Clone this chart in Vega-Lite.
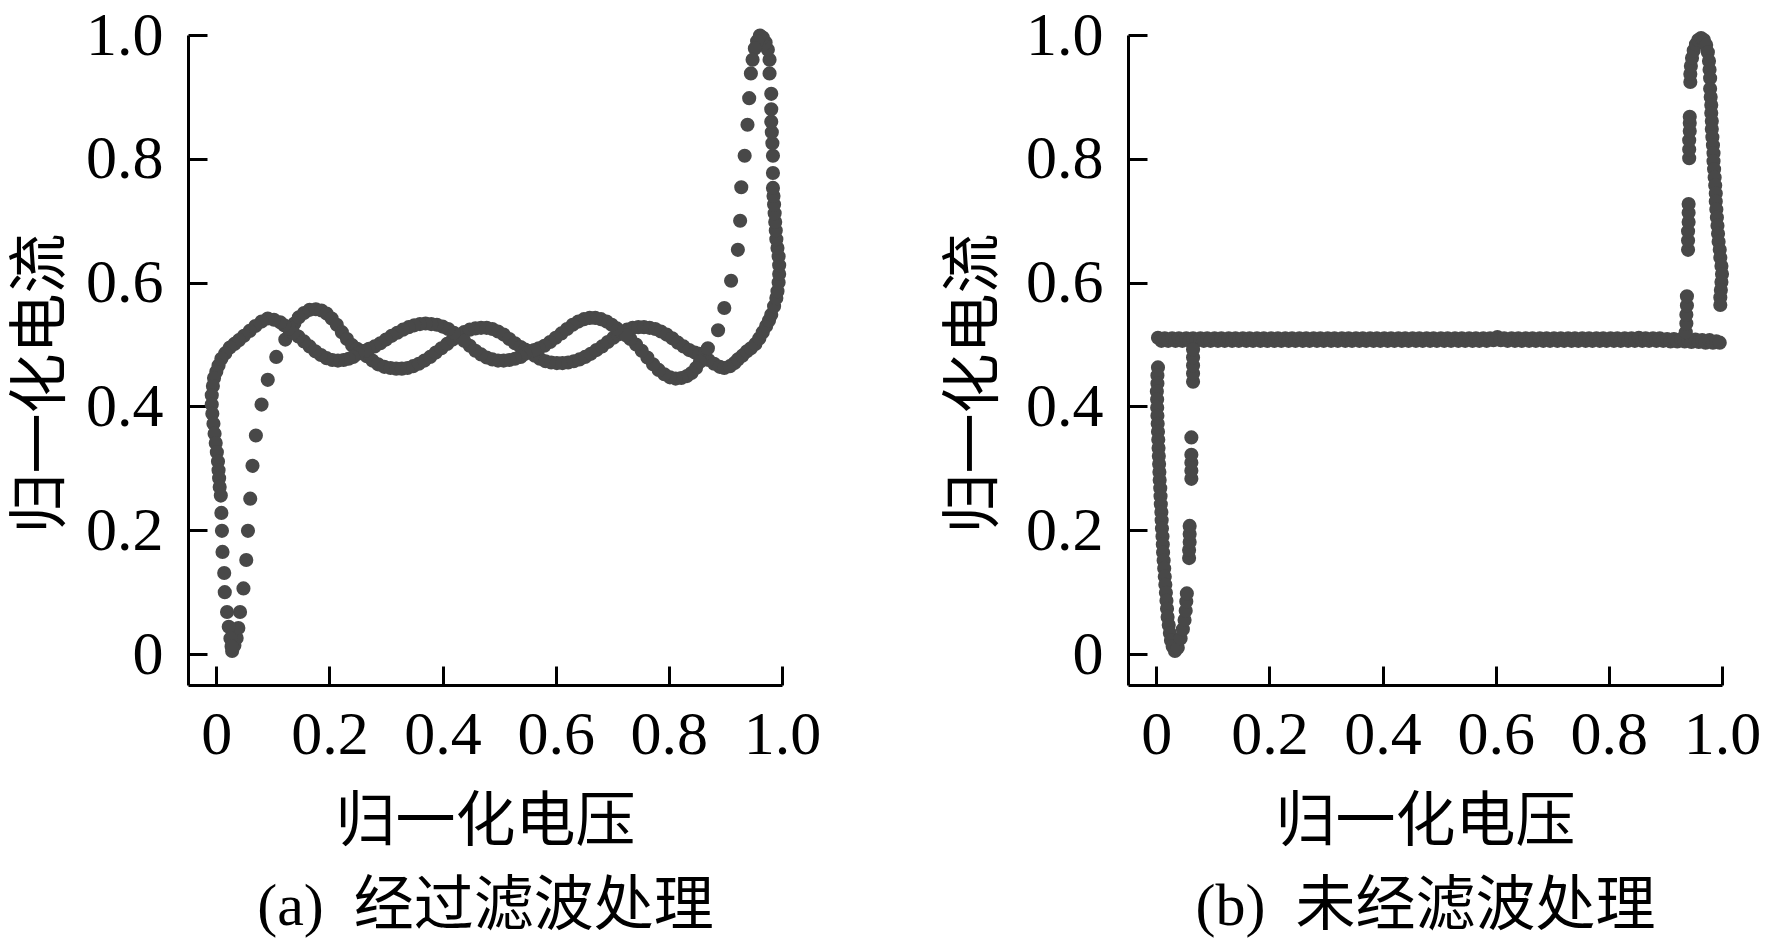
{
  "$schema": "https://vega.github.io/schema/vega-lite/v6.json",
  "background": "white",
  "padding": {"left": 11, "top": 4, "right": 5, "bottom": 5},
  "spacing": 123,
  "config": {
    "view": {"stroke": null},
    "axis": {
      "grid": false,
      "domainColor": "black",
      "domainWidth": 3,
      "tickColor": "black",
      "tickWidth": 3,
      "tickSize": -19,
      "labelOverlap": false,
      "labelFlush": false,
      "labelBound": false,
      "labelFont": "Liberation Serif",
      "labelFontSize": 62,
      "labelColor": "black",
      "titleFont": "Liberation Serif, Noto Sans CJK SC",
      "titleFontSize": 60,
      "titleFontWeight": "normal",
      "titleColor": "black"
    },
    "axisX": {"labelPadding": 38, "titlePadding": 28, "titleLineHeight": 84},
    "axisY": {"labelPadding": 44, "titleY": 348}
  },
  "datasets": {
    "filtered": [
      {"v": 0.028, "i": 0.005}, {"v": 0.032, "i": 0.014}, {"v": 0.036, "i": 0.026}, {"v": 0.039, "i": 0.042},
      {"v": 0.042, "i": 0.068}, {"v": 0.048, "i": 0.106}, {"v": 0.053, "i": 0.152}, {"v": 0.056, "i": 0.199},
      {"v": 0.060, "i": 0.251}, {"v": 0.064, "i": 0.304}, {"v": 0.070, "i": 0.353}, {"v": 0.080, "i": 0.403},
      {"v": 0.091, "i": 0.443}, {"v": 0.106, "i": 0.480}, {"v": 0.122, "i": 0.508},
      {"v": 0.130, "i": 0.522}, {"v": 0.138, "i": 0.534}, {"v": 0.146, "i": 0.544}, {"v": 0.155, "i": 0.551},
      {"v": 0.165, "i": 0.556}, {"v": 0.176, "i": 0.557}, {"v": 0.186, "i": 0.555}, {"v": 0.195, "i": 0.550},
      {"v": 0.204, "i": 0.542}, {"v": 0.213, "i": 0.532}, {"v": 0.222, "i": 0.520}, {"v": 0.231, "i": 0.509},
      {"v": 0.240, "i": 0.499}, {"v": 0.249, "i": 0.493}, {"v": 0.257, "i": 0.489},
      {"v": 0.266, "i": 0.481}, {"v": 0.276, "i": 0.474}, {"v": 0.286, "i": 0.468}, {"v": 0.297, "i": 0.464},
      {"v": 0.308, "i": 0.462}, {"v": 0.318, "i": 0.461}, {"v": 0.328, "i": 0.461}, {"v": 0.338, "i": 0.462},
      {"v": 0.348, "i": 0.465}, {"v": 0.358, "i": 0.469}, {"v": 0.368, "i": 0.474}, {"v": 0.378, "i": 0.480},
      {"v": 0.388, "i": 0.487}, {"v": 0.398, "i": 0.494}, {"v": 0.408, "i": 0.501}, {"v": 0.418, "i": 0.508},
      {"v": 0.428, "i": 0.514},
      {"v": 0.438, "i": 0.520}, {"v": 0.448, "i": 0.524}, {"v": 0.458, "i": 0.526}, {"v": 0.468, "i": 0.527},
      {"v": 0.478, "i": 0.527}, {"v": 0.488, "i": 0.525}, {"v": 0.498, "i": 0.521}, {"v": 0.508, "i": 0.516},
      {"v": 0.518, "i": 0.509}, {"v": 0.528, "i": 0.502}, {"v": 0.538, "i": 0.496}, {"v": 0.546, "i": 0.492},
      {"v": 0.554, "i": 0.489},
      {"v": 0.563, "i": 0.482}, {"v": 0.572, "i": 0.477}, {"v": 0.582, "i": 0.473}, {"v": 0.592, "i": 0.471},
      {"v": 0.602, "i": 0.470}, {"v": 0.612, "i": 0.470}, {"v": 0.622, "i": 0.471}, {"v": 0.632, "i": 0.473},
      {"v": 0.642, "i": 0.476}, {"v": 0.652, "i": 0.480}, {"v": 0.662, "i": 0.485}, {"v": 0.672, "i": 0.491},
      {"v": 0.682, "i": 0.497}, {"v": 0.692, "i": 0.504}, {"v": 0.702, "i": 0.511}, {"v": 0.710, "i": 0.516},
      {"v": 0.717, "i": 0.520},
      {"v": 0.726, "i": 0.524}, {"v": 0.736, "i": 0.527}, {"v": 0.746, "i": 0.528}, {"v": 0.756, "i": 0.528},
      {"v": 0.766, "i": 0.527}, {"v": 0.776, "i": 0.525}, {"v": 0.786, "i": 0.521}, {"v": 0.796, "i": 0.516},
      {"v": 0.806, "i": 0.510}, {"v": 0.816, "i": 0.503}, {"v": 0.826, "i": 0.497}, {"v": 0.836, "i": 0.491},
      {"v": 0.846, "i": 0.487}, {"v": 0.854, "i": 0.485}, {"v": 0.862, "i": 0.483},
      {"v": 0.870, "i": 0.475}, {"v": 0.880, "i": 0.469}, {"v": 0.890, "i": 0.464}, {"v": 0.898, "i": 0.462},
      {"v": 0.908, "i": 0.465}, {"v": 0.916, "i": 0.470}, {"v": 0.922, "i": 0.476}, {"v": 0.930, "i": 0.482},
      {"v": 0.938, "i": 0.489}, {"v": 0.945, "i": 0.494}, {"v": 0.953, "i": 0.501}, {"v": 0.960, "i": 0.510},
      {"v": 0.966, "i": 0.520}, {"v": 0.972, "i": 0.530}, {"v": 0.977, "i": 0.539}, {"v": 0.981, "i": 0.548},
      {"v": 0.986, "i": 0.562}, {"v": 0.990, "i": 0.575}, {"v": 0.992, "i": 0.586}, {"v": 0.994, "i": 0.600},
      {"v": 0.995, "i": 0.614}, {"v": 0.995, "i": 0.628}, {"v": 0.994, "i": 0.642}, {"v": 0.992, "i": 0.656},
      {"v": 0.990, "i": 0.670}, {"v": 0.989, "i": 0.684}, {"v": 0.988, "i": 0.698}, {"v": 0.987, "i": 0.712},
      {"v": 0.986, "i": 0.726}, {"v": 0.985, "i": 0.740}, {"v": 0.984, "i": 0.753}, {"v": 0.984, "i": 0.777},
      {"v": 0.984, "i": 0.805}, {"v": 0.983, "i": 0.825}, {"v": 0.982, "i": 0.843}, {"v": 0.981, "i": 0.860},
      {"v": 0.981, "i": 0.880}, {"v": 0.981, "i": 0.905}, {"v": 0.978, "i": 0.938}, {"v": 0.978, "i": 0.960},
      {"v": 0.975, "i": 0.976}, {"v": 0.971, "i": 0.988}, {"v": 0.966, "i": 0.996}, {"v": 0.961, "i": 0.999},
      {"v": 0.956, "i": 0.990}, {"v": 0.952, "i": 0.978}, {"v": 0.948, "i": 0.960}, {"v": 0.945, "i": 0.938},
      {"v": 0.942, "i": 0.898}, {"v": 0.939, "i": 0.855}, {"v": 0.934, "i": 0.805}, {"v": 0.928, "i": 0.754},
      {"v": 0.926, "i": 0.700}, {"v": 0.922, "i": 0.653}, {"v": 0.910, "i": 0.603}, {"v": 0.898, "i": 0.559},
      {"v": 0.887, "i": 0.523}, {"v": 0.869, "i": 0.494},
      {"v": 0.855, "i": 0.472}, {"v": 0.848, "i": 0.462}, {"v": 0.840, "i": 0.454}, {"v": 0.832, "i": 0.449},
      {"v": 0.822, "i": 0.446}, {"v": 0.812, "i": 0.445}, {"v": 0.802, "i": 0.447}, {"v": 0.792, "i": 0.452},
      {"v": 0.782, "i": 0.459}, {"v": 0.772, "i": 0.468}, {"v": 0.762, "i": 0.479}, {"v": 0.752, "i": 0.490},
      {"v": 0.742, "i": 0.500}, {"v": 0.732, "i": 0.509}, {"v": 0.724, "i": 0.515},
      {"v": 0.708, "i": 0.526}, {"v": 0.699, "i": 0.532}, {"v": 0.690, "i": 0.537}, {"v": 0.680, "i": 0.541},
      {"v": 0.670, "i": 0.543}, {"v": 0.660, "i": 0.543}, {"v": 0.650, "i": 0.541}, {"v": 0.640, "i": 0.537},
      {"v": 0.630, "i": 0.532}, {"v": 0.620, "i": 0.525}, {"v": 0.610, "i": 0.518}, {"v": 0.600, "i": 0.511},
      {"v": 0.590, "i": 0.504}, {"v": 0.580, "i": 0.498}, {"v": 0.570, "i": 0.494}, {"v": 0.562, "i": 0.491},
      {"v": 0.546, "i": 0.485}, {"v": 0.538, "i": 0.480}, {"v": 0.528, "i": 0.477}, {"v": 0.518, "i": 0.475},
      {"v": 0.508, "i": 0.474}, {"v": 0.498, "i": 0.474}, {"v": 0.488, "i": 0.476}, {"v": 0.478, "i": 0.479},
      {"v": 0.468, "i": 0.484}, {"v": 0.458, "i": 0.490}, {"v": 0.448, "i": 0.498}, {"v": 0.438, "i": 0.506},
      {"v": 0.420, "i": 0.519}, {"v": 0.410, "i": 0.525}, {"v": 0.400, "i": 0.529}, {"v": 0.390, "i": 0.532},
      {"v": 0.380, "i": 0.533}, {"v": 0.370, "i": 0.534}, {"v": 0.360, "i": 0.533}, {"v": 0.350, "i": 0.531},
      {"v": 0.340, "i": 0.528}, {"v": 0.330, "i": 0.524}, {"v": 0.320, "i": 0.519}, {"v": 0.310, "i": 0.514},
      {"v": 0.300, "i": 0.508}, {"v": 0.290, "i": 0.502}, {"v": 0.280, "i": 0.497}, {"v": 0.270, "i": 0.493},
      {"v": 0.263, "i": 0.490},
      {"v": 0.250, "i": 0.485}, {"v": 0.242, "i": 0.480}, {"v": 0.234, "i": 0.477}, {"v": 0.225, "i": 0.475},
      {"v": 0.215, "i": 0.474}, {"v": 0.205, "i": 0.475}, {"v": 0.195, "i": 0.478}, {"v": 0.185, "i": 0.483},
      {"v": 0.175, "i": 0.489}, {"v": 0.165, "i": 0.497}, {"v": 0.155, "i": 0.505}, {"v": 0.145, "i": 0.513},
      {"v": 0.136, "i": 0.519},
      {"v": 0.128, "i": 0.526}, {"v": 0.120, "i": 0.531}, {"v": 0.113, "i": 0.536}, {"v": 0.102, "i": 0.540},
      {"v": 0.091, "i": 0.542}, {"v": 0.080, "i": 0.537}, {"v": 0.069, "i": 0.530}, {"v": 0.059, "i": 0.522},
      {"v": 0.049, "i": 0.514}, {"v": 0.040, "i": 0.507}, {"v": 0.032, "i": 0.501}, {"v": 0.024, "i": 0.495},
      {"v": 0.016, "i": 0.486}, {"v": 0.009, "i": 0.477}, {"v": 0.004, "i": 0.466}, {"v": 0.000, "i": 0.456},
      {"v": -0.004, "i": 0.446}, {"v": -0.006, "i": 0.433}, {"v": -0.008, "i": 0.418}, {"v": -0.008, "i": 0.403},
      {"v": -0.007, "i": 0.388}, {"v": -0.005, "i": 0.372}, {"v": -0.003, "i": 0.356}, {"v": -0.001, "i": 0.341},
      {"v": 0.001, "i": 0.326}, {"v": 0.003, "i": 0.311}, {"v": 0.004, "i": 0.297}, {"v": 0.005, "i": 0.284},
      {"v": 0.006, "i": 0.270}, {"v": 0.008, "i": 0.256}, {"v": 0.009, "i": 0.228}, {"v": 0.010, "i": 0.199},
      {"v": 0.011, "i": 0.165}, {"v": 0.014, "i": 0.131}, {"v": 0.015, "i": 0.100}, {"v": 0.019, "i": 0.068},
      {"v": 0.022, "i": 0.044}, {"v": 0.025, "i": 0.025}, {"v": 0.027, "i": 0.012}
    ],
    "raw": [
      {"v": 0.003, "i": 0.511}, {"v": 0.009, "i": 0.506}, {"v": 0.015, "i": 0.510}, {"v": 0.021, "i": 0.506},
      {"v": 0.028, "i": 0.510}, {"v": 0.034, "i": 0.506}, {"v": 0.040, "i": 0.510}, {"v": 0.046, "i": 0.506},
      {"v": 0.053, "i": 0.510}, {"v": 0.059, "i": 0.506}, {"v": 0.065, "i": 0.510}, {"v": 0.071, "i": 0.506},
      {"v": 0.078, "i": 0.510}, {"v": 0.084, "i": 0.506}, {"v": 0.090, "i": 0.510}, {"v": 0.096, "i": 0.506},
      {"v": 0.103, "i": 0.510}, {"v": 0.109, "i": 0.506}, {"v": 0.115, "i": 0.510}, {"v": 0.121, "i": 0.506},
      {"v": 0.128, "i": 0.510}, {"v": 0.134, "i": 0.506}, {"v": 0.140, "i": 0.510}, {"v": 0.146, "i": 0.506},
      {"v": 0.153, "i": 0.510}, {"v": 0.159, "i": 0.506}, {"v": 0.165, "i": 0.510}, {"v": 0.171, "i": 0.506},
      {"v": 0.178, "i": 0.510}, {"v": 0.184, "i": 0.506}, {"v": 0.190, "i": 0.510}, {"v": 0.196, "i": 0.506},
      {"v": 0.203, "i": 0.510}, {"v": 0.209, "i": 0.506}, {"v": 0.215, "i": 0.510}, {"v": 0.221, "i": 0.506},
      {"v": 0.228, "i": 0.510}, {"v": 0.234, "i": 0.506}, {"v": 0.240, "i": 0.510}, {"v": 0.246, "i": 0.506},
      {"v": 0.253, "i": 0.510}, {"v": 0.259, "i": 0.506}, {"v": 0.265, "i": 0.510}, {"v": 0.271, "i": 0.506},
      {"v": 0.278, "i": 0.510}, {"v": 0.284, "i": 0.506}, {"v": 0.290, "i": 0.510}, {"v": 0.296, "i": 0.506},
      {"v": 0.303, "i": 0.510}, {"v": 0.309, "i": 0.506}, {"v": 0.315, "i": 0.510}, {"v": 0.321, "i": 0.506},
      {"v": 0.328, "i": 0.510}, {"v": 0.334, "i": 0.506}, {"v": 0.340, "i": 0.510}, {"v": 0.346, "i": 0.506},
      {"v": 0.353, "i": 0.510}, {"v": 0.359, "i": 0.506}, {"v": 0.365, "i": 0.510}, {"v": 0.371, "i": 0.506},
      {"v": 0.378, "i": 0.510}, {"v": 0.384, "i": 0.506}, {"v": 0.390, "i": 0.510}, {"v": 0.396, "i": 0.506},
      {"v": 0.403, "i": 0.510}, {"v": 0.409, "i": 0.506}, {"v": 0.415, "i": 0.510}, {"v": 0.421, "i": 0.506},
      {"v": 0.428, "i": 0.510}, {"v": 0.434, "i": 0.506}, {"v": 0.440, "i": 0.510}, {"v": 0.446, "i": 0.506},
      {"v": 0.453, "i": 0.510}, {"v": 0.459, "i": 0.506}, {"v": 0.465, "i": 0.510}, {"v": 0.471, "i": 0.506},
      {"v": 0.478, "i": 0.510}, {"v": 0.484, "i": 0.506}, {"v": 0.490, "i": 0.510}, {"v": 0.496, "i": 0.506},
      {"v": 0.503, "i": 0.510}, {"v": 0.509, "i": 0.506}, {"v": 0.515, "i": 0.510}, {"v": 0.521, "i": 0.506},
      {"v": 0.528, "i": 0.510}, {"v": 0.534, "i": 0.506}, {"v": 0.540, "i": 0.510}, {"v": 0.546, "i": 0.506},
      {"v": 0.553, "i": 0.510}, {"v": 0.559, "i": 0.506}, {"v": 0.565, "i": 0.510}, {"v": 0.571, "i": 0.506},
      {"v": 0.578, "i": 0.510}, {"v": 0.584, "i": 0.506}, {"v": 0.590, "i": 0.510}, {"v": 0.596, "i": 0.507},
      {"v": 0.603, "i": 0.512}, {"v": 0.609, "i": 0.507}, {"v": 0.615, "i": 0.510}, {"v": 0.621, "i": 0.506},
      {"v": 0.628, "i": 0.510}, {"v": 0.634, "i": 0.506}, {"v": 0.640, "i": 0.510}, {"v": 0.646, "i": 0.506},
      {"v": 0.653, "i": 0.510}, {"v": 0.659, "i": 0.506}, {"v": 0.665, "i": 0.510}, {"v": 0.671, "i": 0.506},
      {"v": 0.678, "i": 0.510}, {"v": 0.684, "i": 0.506}, {"v": 0.690, "i": 0.510}, {"v": 0.696, "i": 0.506},
      {"v": 0.703, "i": 0.510}, {"v": 0.709, "i": 0.506}, {"v": 0.715, "i": 0.510}, {"v": 0.721, "i": 0.506},
      {"v": 0.728, "i": 0.510}, {"v": 0.734, "i": 0.506}, {"v": 0.740, "i": 0.510}, {"v": 0.746, "i": 0.506},
      {"v": 0.753, "i": 0.510}, {"v": 0.759, "i": 0.506}, {"v": 0.765, "i": 0.510}, {"v": 0.771, "i": 0.506},
      {"v": 0.778, "i": 0.510}, {"v": 0.784, "i": 0.506}, {"v": 0.790, "i": 0.510}, {"v": 0.796, "i": 0.506},
      {"v": 0.803, "i": 0.510}, {"v": 0.809, "i": 0.506}, {"v": 0.815, "i": 0.510}, {"v": 0.821, "i": 0.506},
      {"v": 0.828, "i": 0.510}, {"v": 0.834, "i": 0.506}, {"v": 0.840, "i": 0.510}, {"v": 0.846, "i": 0.506},
      {"v": 0.853, "i": 0.511}, {"v": 0.859, "i": 0.506}, {"v": 0.865, "i": 0.510}, {"v": 0.871, "i": 0.506},
      {"v": 0.878, "i": 0.510}, {"v": 0.884, "i": 0.506}, {"v": 0.890, "i": 0.510}, {"v": 0.896, "i": 0.506},
      {"v": 0.903, "i": 0.509}, {"v": 0.909, "i": 0.505}, {"v": 0.915, "i": 0.509}, {"v": 0.921, "i": 0.505},
      {"v": 0.928, "i": 0.509}, {"v": 0.934, "i": 0.505}, {"v": 0.940, "i": 0.508}, {"v": 0.946, "i": 0.504},
      {"v": 0.953, "i": 0.508}, {"v": 0.959, "i": 0.504}, {"v": 0.965, "i": 0.507}, {"v": 0.971, "i": 0.503},
      {"v": 0.978, "i": 0.507}, {"v": 0.984, "i": 0.503}, {"v": 0.990, "i": 0.505}, {"v": 0.996, "i": 0.503},
      {"v": 0.003, "i": 0.463}, {"v": 0.002, "i": 0.450}, {"v": 0.002, "i": 0.437}, {"v": 0.001, "i": 0.424},
      {"v": 0.0015, "i": 0.411}, {"v": 0.0016, "i": 0.398}, {"v": 0.002, "i": 0.385}, {"v": 0.0025, "i": 0.372},
      {"v": 0.003, "i": 0.359}, {"v": 0.0035, "i": 0.346}, {"v": 0.004, "i": 0.333}, {"v": 0.0045, "i": 0.320},
      {"v": 0.005, "i": 0.307}, {"v": 0.0055, "i": 0.294}, {"v": 0.006, "i": 0.281}, {"v": 0.007, "i": 0.268},
      {"v": 0.0075, "i": 0.255}, {"v": 0.008, "i": 0.242}, {"v": 0.009, "i": 0.229}, {"v": 0.0095, "i": 0.216},
      {"v": 0.010, "i": 0.203}, {"v": 0.011, "i": 0.190}, {"v": 0.0115, "i": 0.177}, {"v": 0.012, "i": 0.164},
      {"v": 0.013, "i": 0.151}, {"v": 0.014, "i": 0.138}, {"v": 0.015, "i": 0.125}, {"v": 0.016, "i": 0.112},
      {"v": 0.017, "i": 0.099}, {"v": 0.018, "i": 0.086}, {"v": 0.019, "i": 0.073}, {"v": 0.020, "i": 0.060},
      {"v": 0.022, "i": 0.047}, {"v": 0.024, "i": 0.034}, {"v": 0.026, "i": 0.022}, {"v": 0.029, "i": 0.012},
      {"v": 0.033, "i": 0.005},
      {"v": 0.038, "i": 0.010}, {"v": 0.043, "i": 0.025}, {"v": 0.047, "i": 0.040}, {"v": 0.050, "i": 0.055},
      {"v": 0.052, "i": 0.070}, {"v": 0.053, "i": 0.085}, {"v": 0.054, "i": 0.098},
      {"v": 0.058, "i": 0.155}, {"v": 0.058, "i": 0.168}, {"v": 0.059, "i": 0.181}, {"v": 0.059, "i": 0.194},
      {"v": 0.059, "i": 0.207},
      {"v": 0.062, "i": 0.283}, {"v": 0.062, "i": 0.296}, {"v": 0.062, "i": 0.309}, {"v": 0.062, "i": 0.322},
      {"v": 0.062, "i": 0.350},
      {"v": 0.065, "i": 0.440}, {"v": 0.065, "i": 0.453}, {"v": 0.065, "i": 0.466}, {"v": 0.065, "i": 0.479},
      {"v": 0.065, "i": 0.492},
      {"v": 0.936, "i": 0.520}, {"v": 0.937, "i": 0.534}, {"v": 0.937, "i": 0.548}, {"v": 0.938, "i": 0.563},
      {"v": 0.938, "i": 0.578},
      {"v": 0.940, "i": 0.653}, {"v": 0.940, "i": 0.668}, {"v": 0.940, "i": 0.683}, {"v": 0.941, "i": 0.698},
      {"v": 0.941, "i": 0.713}, {"v": 0.941, "i": 0.727},
      {"v": 0.942, "i": 0.801}, {"v": 0.942, "i": 0.815}, {"v": 0.942, "i": 0.830}, {"v": 0.943, "i": 0.845},
      {"v": 0.943, "i": 0.858}, {"v": 0.943, "i": 0.868},
      {"v": 0.944, "i": 0.924}, {"v": 0.944, "i": 0.937}, {"v": 0.945, "i": 0.950}, {"v": 0.947, "i": 0.963},
      {"v": 0.950, "i": 0.975}, {"v": 0.954, "i": 0.985}, {"v": 0.958, "i": 0.992}, {"v": 0.963, "i": 0.995},
      {"v": 0.968, "i": 0.992}, {"v": 0.972, "i": 0.984}, {"v": 0.975, "i": 0.972}, {"v": 0.977, "i": 0.958},
      {"v": 0.978, "i": 0.944}, {"v": 0.979, "i": 0.930}, {"v": 0.979, "i": 0.913},
      {"v": 0.980, "i": 0.900}, {"v": 0.981, "i": 0.887}, {"v": 0.981, "i": 0.874}, {"v": 0.982, "i": 0.861},
      {"v": 0.982, "i": 0.848}, {"v": 0.983, "i": 0.835}, {"v": 0.984, "i": 0.822}, {"v": 0.985, "i": 0.809},
      {"v": 0.985, "i": 0.796}, {"v": 0.986, "i": 0.783}, {"v": 0.987, "i": 0.770}, {"v": 0.988, "i": 0.757},
      {"v": 0.989, "i": 0.744}, {"v": 0.989, "i": 0.731}, {"v": 0.990, "i": 0.718}, {"v": 0.991, "i": 0.705},
      {"v": 0.992, "i": 0.692}, {"v": 0.993, "i": 0.679}, {"v": 0.994, "i": 0.666}, {"v": 0.996, "i": 0.653},
      {"v": 0.997, "i": 0.640}, {"v": 0.999, "i": 0.627}, {"v": 1.000, "i": 0.614}, {"v": 0.999, "i": 0.601},
      {"v": 0.998, "i": 0.588}, {"v": 0.997, "i": 0.576}, {"v": 0.997, "i": 0.564}
    ]
  },
  "hconcat": [
    {
      "width": 594,
      "height": 650,
      "data": {"name": "filtered"},
      "mark": {"type": "circle", "size": 200, "color": "#484848", "opacity": 1},
      "encoding": {
        "x": {
          "field": "v",
          "type": "quantitative",
          "scale": {"domain": [-0.05, 1.0], "nice": false, "zero": false},
          "axis": {
            "values": [0, 0.2, 0.4, 0.6, 0.8, 1],
            "labelExpr": "datum.value == 0 ? '0' : format(datum.value, '.1f')",
            "title": ["归一化电压", "(a)\u00a0\u00a0经过滤波处理"]
          }
        },
        "y": {
          "field": "i",
          "type": "quantitative",
          "scale": {"domain": [-0.05, 1.0], "nice": false, "zero": false},
          "axis": {
            "values": [0, 0.2, 0.4, 0.6, 0.8, 1],
            "labelExpr": "datum.value == 0 ? '0' : format(datum.value, '.1f')",
            "title": "归一化电流",
            "titleX": -116
          }
        }
      }
    },
    {
      "width": 594,
      "height": 650,
      "data": {"name": "raw"},
      "mark": {"type": "circle", "size": 200, "color": "#484848", "opacity": 1},
      "encoding": {
        "x": {
          "field": "v",
          "type": "quantitative",
          "scale": {"domain": [-0.05, 1.0], "nice": false, "zero": false},
          "axis": {
            "values": [0, 0.2, 0.4, 0.6, 0.8, 1],
            "labelExpr": "datum.value == 0 ? '0' : format(datum.value, '.1f')",
            "title": ["归一化电压", "(b)\u00a0\u00a0未经滤波处理"]
          }
        },
        "y": {
          "field": "i",
          "type": "quantitative",
          "scale": {"domain": [-0.05, 1.0], "nice": false, "zero": false},
          "axis": {
            "values": [0, 0.2, 0.4, 0.6, 0.8, 1],
            "labelExpr": "datum.value == 0 ? '0' : format(datum.value, '.1f')",
            "title": "归一化电流",
            "titleX": -123
          }
        }
      }
    }
  ]
}
